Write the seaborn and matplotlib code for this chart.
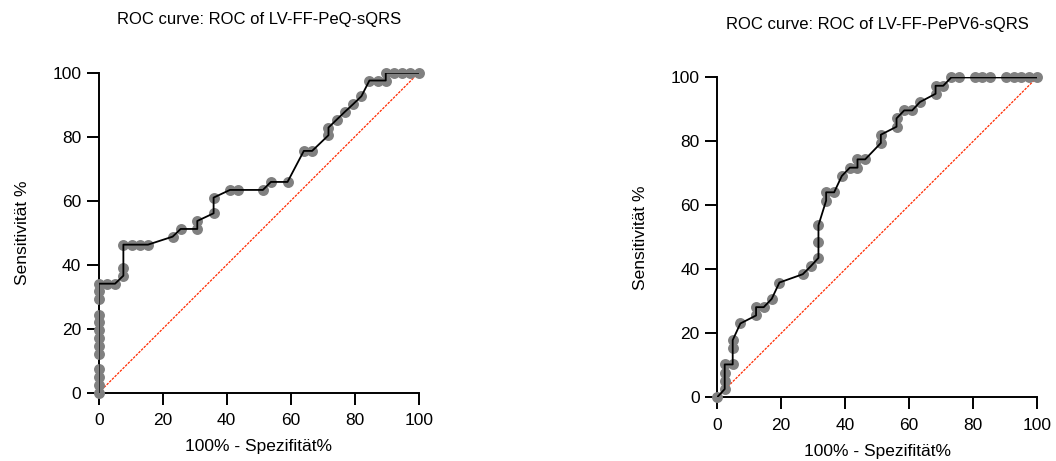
import numpy as np
import pandas as pd
import seaborn as sns
import matplotlib.pyplot as plt

# ROC of LV-FF-PeQ-sQRS (100% - Spezifität, Sensitivität)
peq_fpr = [0, 0, 0, 0, 0, 0, 0, 0, 0, 0, 0, 0, 0, 2.6, 5.1, 7.7, 7.7, 7.7,
           10.3, 12.8, 15.4, 23.1, 25.6, 30.8, 30.8, 35.9, 35.9, 41.0, 43.6, 51.3,
           53.8, 59.0, 64.1, 66.7, 71.8, 71.8, 74.4, 76.9, 79.5, 82.1,
           84.6, 87.2, 89.7, 89.7, 92.3, 94.9, 97.4, 100]
peq_sens = [0, 2.4, 4.9, 7.3, 12.2, 14.6, 17.1, 19.5, 22.0, 24.4, 29.3, 31.7, 34.1, 34.1, 34.1, 36.6, 39.0, 46.3,
            46.3, 46.3, 46.3, 48.8, 51.2, 51.2, 53.7, 56.1, 61.0, 63.4, 63.4, 63.4,
            65.9, 65.9, 75.6, 75.6, 80.5, 82.9, 85.4, 87.8, 90.2, 92.7,
            97.6, 97.6, 97.6, 100, 100, 100, 100, 100]

# ROC of LV-FF-PePV6-sQRS
pv6_fpr = [0, 2.4, 2.4, 2.4, 2.4, 4.9, 4.9, 4.9, 7.3, 12.2, 12.2, 14.6, 17.1, 19.5, 26.8, 29.3,
           31.7, 31.7, 31.7, 34.1, 34.1, 36.6, 39.0, 41.5, 43.9, 43.9, 46.3, 51.2, 51.2, 56.1, 56.1,
           58.5, 61.0, 63.4, 68.3, 68.3, 70.7, 73.2, 75.6, 80.5, 82.9, 85.4, 90.2, 92.7, 95.1, 97.6, 100]
pv6_sens = [0, 2.6, 5.1, 7.7, 10.3, 10.3, 15.4, 17.9, 23.1, 25.6, 28.2, 28.2, 30.8, 35.9, 38.5, 41.0,
            43.6, 48.7, 53.8, 61.5, 64.1, 64.1, 69.2, 71.8, 71.8, 74.4, 74.4, 79.5, 82.1, 84.6, 87.2,
            89.7, 89.7, 92.3, 94.9, 97.4, 97.4, 100, 100, 100, 100, 100, 100, 100, 100, 100, 100]

titles = ["ROC curve: ROC of LV-FF-PeQ-sQRS", "ROC curve: ROC of LV-FF-PePV6-sQRS"]
ticks = [0, 20, 40, 60, 80, 100]
diag = [0, 100]

sns.set_style("ticks", {"axes.edgecolor": "black", "text.color": "black",
                        "xtick.color": "black", "ytick.color": "black",
                        "axes.labelcolor": "black"})
plt.rcParams['font.family'] = ['Liberation Sans', 'DejaVu Sans']

fig = plt.figure(figsize=(10.56, 4.61), dpi=100)
ax1 = fig.add_axes([0.0935, 0.148, 0.303, 0.694])
ax2 = fig.add_axes([0.679, 0.138, 0.303, 0.694])

for ax, fpr, sens, title in [(ax1, peq_fpr, peq_sens, titles[0]),
                             (ax2, pv6_fpr, pv6_sens, titles[1])]:
    df = pd.DataFrame({"fpr": fpr, "sens": sens})
    # Zufallslinie
    sns.lineplot(x=diag, y=diag, ax=ax, color="#ff2a00", lw=0.9,
                 linestyle=(0, (2, 1)), zorder=2)
    sns.scatterplot(data=df, x="fpr", y="sens", ax=ax, color="#808080", s=62,
                    linewidth=0, zorder=3, clip_on=False)
    sns.lineplot(data=df, x="fpr", y="sens", ax=ax, sort=False, estimator=None,
                 color="black", lw=1.3, zorder=4)

    ax.set_xlim(0, 100)
    ax.set_ylim(0, 100)
    ax.set_xticks(ticks)
    ax.set_yticks(ticks)
    ax.tick_params(direction="out", length=8.5, width=1.4, labelsize=12.5, pad=4,
                   colors="black")
    ax.tick_params(axis="x", pad=6)
    for s in ["left", "bottom"]:
        ax.spines[s].set_linewidth(1.4)
    sns.despine(ax=ax)
    ax.set_title(title, fontsize=12, pad=35, color="black")
    ax.set_xlabel("100% - Spezifität%", fontsize=12.5, labelpad=8, color="black")
    ax.set_ylabel("Sensitivität %", fontsize=12.5, labelpad=16, color="black")

fig.savefig("out.png", dpi=100)
